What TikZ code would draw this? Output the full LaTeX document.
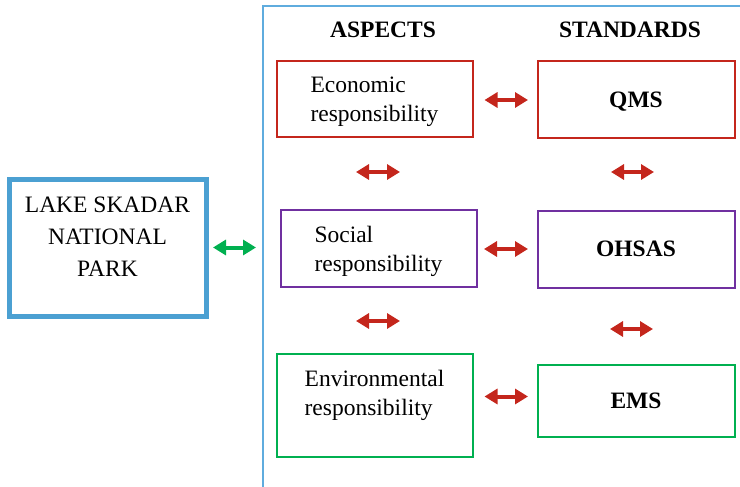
\documentclass[tikz,border=0pt]{standalone}
\usepackage{fontspec}
\setmainfont{Liberation Serif}
\usepackage{tikz}
\usetikzlibrary{arrows.meta}

\definecolor{frameblue}{RGB}{95,172,222}
\definecolor{lakeblue}{RGB}{75,160,210}
\definecolor{ecored}{RGB}{196,38,28}
\definecolor{socpurple}{RGB}{112,48,160}
\definecolor{envgreen}{RGB}{0,176,80}

\begin{document}
\begin{tikzpicture}[
  x=1pt, y=-1pt,
  every node/.style={font=\fontsize{23.5}{29}\selectfont, inner sep=0pt},
  aspect/.style={draw, line width=2pt, minimum width=196pt, align=left},
  standard/.style={draw, line width=2pt, minimum width=197pt, text depth=0pt,
                   font=\fontsize{23.5}{29}\selectfont\bfseries},
  head/.style={font=\fontsize{23.5}{29}\selectfont\bfseries},
  link/.style={{Triangle[length=13pt,width=15pt]}-{Triangle[length=13pt,width=15pt]},
               line width=4pt, ecored}
]
  \useasboundingbox (0,0) rectangle (740,487);

  % park
  \node[draw=lakeblue, line width=5pt, minimum width=197pt, minimum height=137pt,
        align=center, font=\fontsize{23.5}{32}\selectfont, text depth=21pt]
        (lake) at (107.5,247.5) {LAKE SKADAR\\NATIONAL\\PARK};

  % frame
  \coordinate (frametop) at (263,6);
  \draw[frameblue, line width=2pt] (263,487) -- (frametop) -- (740,6);

  \node[head] (asp) at (383,30) {ASPECTS};
  \node[head] (std) at (630,30) {STANDARDS};

  % aspects
  \node[aspect, draw=ecored, minimum height=76pt, text depth=0pt]
        (econ) at (374.5,99.5) {Economic\\responsibility};
  \node[aspect, draw=socpurple, minimum height=77pt, text depth=0pt]
        (soc) at (378.5,248.5) {Social\\responsibility};
  \node[aspect, draw=envgreen, minimum height=103pt, text depth=24pt]
        (env) at (374.5,405) {Environmental\\responsibility};

  % standards
  \node[standard, draw=ecored, minimum height=77pt] (qms) at (636,100) {QMS};
  \node[standard, draw=socpurple, minimum height=77pt] (ohsas) at (636,249) {OHSAS};
  \node[standard, draw=envgreen, minimum height=72pt] (ems) at (636,400.5) {EMS};

  % links
  \draw[link, envgreen, shorten <=4.5pt, shorten >=7pt] (lake.east) -- (lake.east -| frametop);
  \draw[link, shorten <=11pt, shorten >=8.5pt] (econ.east |- qms.west) -- (qms.west);
  \draw[link, shorten <=6.5pt, shorten >=8.5pt] (soc.east |- ohsas.west) -- (ohsas.west);
  \draw[link, shorten <=11pt, shorten >=8.5pt, transform canvas={yshift=4pt}]
        (env.east |- ems.west) -- (ems.west);

  \coordinate (aspA1) at (356,172);
  \coordinate (aspA2) at (400,172);
  \coordinate (aspB1) at (356,321);
  \coordinate (aspB2) at (400,321);
  \coordinate (stdA1) at (611,172);
  \coordinate (stdA2) at (654,172);
  \coordinate (stdB1) at (610,329);
  \coordinate (stdB2) at (653,329);
  \draw[link] (aspA1) -- (aspA2);
  \draw[link] (aspB1) -- (aspB2);
  \draw[link] (stdA1) -- (stdA2);
  \draw[link] (stdB1) -- (stdB2);
\end{tikzpicture}
\end{document}
